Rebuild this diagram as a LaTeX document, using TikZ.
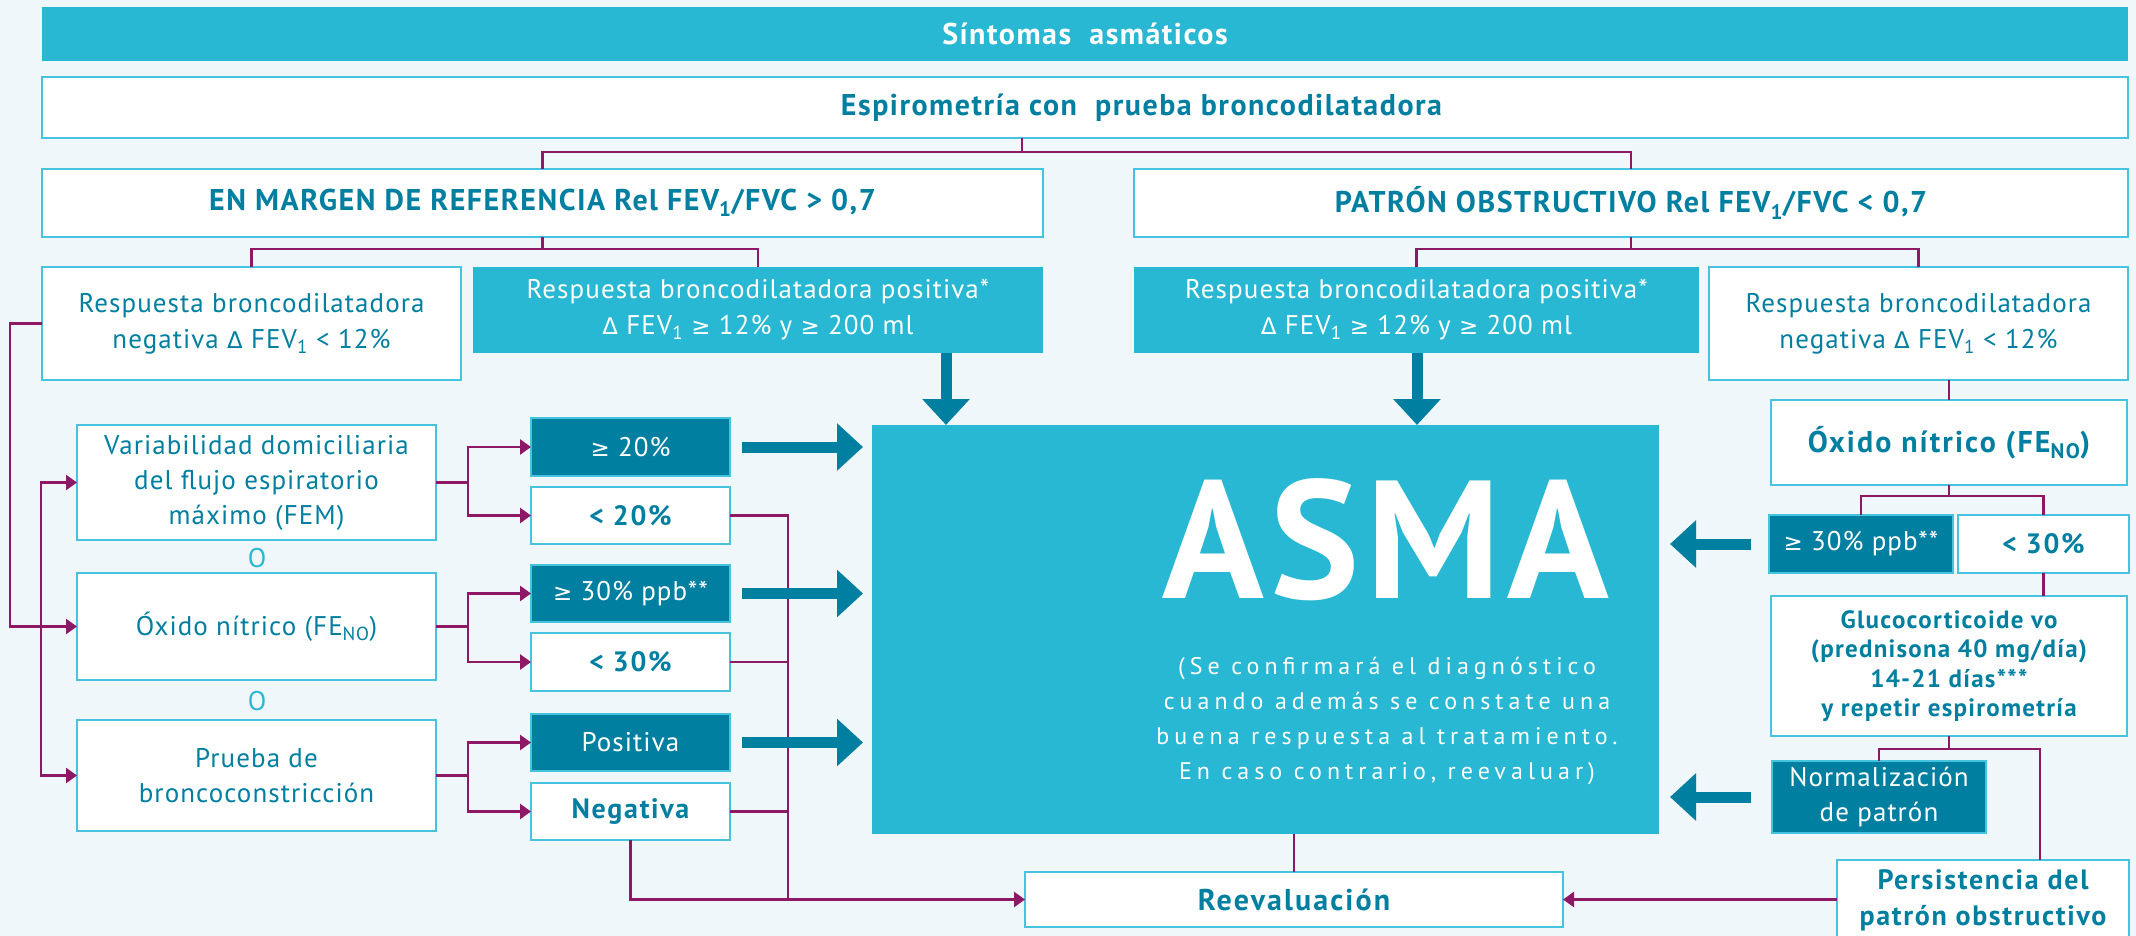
\documentclass[tikz,border=0pt]{standalone}
\usepackage{fontspec}
\setmainfont{PT Sans}
\newfontfamily\symf[Scale=0.85]{DejaVu Sans}
\usetikzlibrary{arrows.meta,calc}
\definecolor{cy}{RGB}{41,184,211}
\definecolor{dk}{RGB}{0,127,160}
\definecolor{pu}{RGB}{140,24,102}
\definecolor{bgc}{RGB}{240,247,251}
\definecolor{bd}{RGB}{70,195,222}
\newcommand{\gesym}{{\symf ≥}}
\newcommand{\Dsym}{{\symf Δ}}
\newcommand{\sbs}[1]{\textsubscript{#1}}
\newcommand{\bx}[7]{\node[#2, minimum width={(#5)-(#3)}, minimum height={(#6)-(#4)}] (#1) at ({((#3)+(#5))/2},{((#4)+(#6))/2}) {#7};}
\tikzset{
 wb/.style={draw=bd, line width=1.6pt, fill=white, inner sep=0pt, outer sep=0pt, align=center, text=dk},
 cb/.style={fill=cy, inner sep=0pt, outer sep=0pt, align=center, text=white},
 db/.style={fill=dk, draw=bd, line width=1.2pt, inner sep=0pt, outer sep=0pt, align=center, text=white},
 pl/.style={draw=pu, line width=2.6pt},
 pa/.style={pl, -{Triangle[length=11pt,width=15pt]}},
 fat/.style={draw=dk, line width=11pt, -{Triangle[length=26pt,width=46pt]}},
 ft/.style={font=\fontsize{27}{36}\selectfont\addfontfeatures{LetterSpace=4}},
 fs/.style={font=\fontsize{27}{35}\selectfont\addfontfeatures{LetterSpace=4}},
 fb/.style={font=\bfseries\fontsize{30}{34}\selectfont\addfontfeatures{LetterSpace=5}},
 fbx/.style={font=\bfseries\fontsize{30}{34}\selectfont\addfontfeatures{LetterSpace=7}},
 fbs/.style={font=\bfseries\fontsize{28}{36}\selectfont\addfontfeatures{LetterSpace=6}},
}
\begin{document}
\begin{tikzpicture}[x=1pt,y=-1pt]
\fill[bgc] (0,0) rectangle (2136,936);
\useasboundingbox (0,0) rectangle (2136,936);
% top rows
\bx{top}{cb,fb}{42}{7}{2128}{61}{Síntomas\ \ asmáticos}
\bx{esp}{wb,fb}{42}{77}{2128}{138}{\hspace*{113pt}Espirometría con\ \ prueba broncodilatadora}
\bx{enm}{wb,fb}{42}{169}{1043}{237}{EN MARGEN DE REFERENCIA Rel FEV\sbs{1}/FVC > 0,7}
\bx{pat}{wb,fb}{1134}{169}{2128}{237}{PATRÓN OBSTRUCTIVO Rel FEV\sbs{1}/FVC < 0,7}
\bx{rnl}{wb,ft}{42}{267}{461}{380}{Respuesta broncodilatadora\\negativa \Dsym{} FEV\sbs{1} < 12\%}
\bx{rpl}{cb,ft}{473}{267}{1043}{353}{Respuesta broncodilatadora positiva*\\\Dsym{} FEV\sbs{1} \gesym{} 12\% y \gesym{} 200 ml}
\bx{rpr}{cb,ft}{1134}{267}{1699}{353}{Respuesta broncodilatadora positiva*\\\Dsym{} FEV\sbs{1} \gesym{} 12\% y \gesym{} 200 ml}
\bx{rnr}{wb,ft}{1709}{267}{2128}{380}{Respuesta broncodilatadora\\negativa \Dsym{} FEV\sbs{1} < 12\%}
% left column
\bx{var}{wb,fs}{77}{425}{436}{540}{Variabilidad domiciliaria\\del flujo espiratorio\\máximo (FEM)}
\bx{oxl}{wb,fs}{77}{573}{436}{680}{Óxido nítrico (FE\sbs{NO})}
\bx{pru}{wb,fs}{77}{720}{436}{831}{Prueba de\\broncoconstricción}
\node[fs, text=cy] (o1) at (257,558) {O};
\node[fs, text=cy] (o2) at (257,701) {O};
\bx{g20}{db,fs}{531}{418}{730}{476}{\gesym{} 20\%}
\bx{l20}{wb,fbs}{531}{487}{730}{544}{< 20\%}
\bx{g30}{db,fs}{531}{565}{730}{622}{\gesym{} 30\% ppb**}
\bx{l30}{wb,fbs}{531}{633}{730}{691}{< 30\%}
\bx{pos}{db,fs}{531}{714}{730}{771}{Positiva}
\bx{neg}{wb,fbs}{531}{783}{730}{840}{Negativa}
% centre
\bx{asma}{cb}{872}{425}{1659}{834}{}
\node[text=white, font=\bfseries\fontsize{168}{168}\selectfont\addfontfeatures{LetterSpace=4}] (asmat) at (1386,540) {ASMA};
\node[text=white, align=center, font=\fontsize{24}{35}\selectfont\addfontfeatures{LetterSpace=21}] (asmas) at (1387,721) {(Se confirmará el diagnóstico\\cuando además se constate una\\buena respuesta al tratamiento.\\En caso contrario, reevaluar)};
\bx{reev}{wb,fbx}{1025}{872}{1563}{927}{Reevaluación}
% right column
\bx{oxr}{wb,fbx}{1771}{400}{2127}{485}{Óxido nítrico (FE\sbs{NO})}
\bx{g30r}{db,fs}{1769}{515}{1953}{573}{\gesym{} 30\% ppb**}
\bx{l30r}{wb,fbs}{1958}{515}{2129}{573}{< 30\%}
\bx{glu}{wb,font=\bfseries\fontsize{25}{29.5}\selectfont\addfontfeatures{LetterSpace=5}}{1771}{596}{2127}{736}{Glucocorticoide vo\\(prednisona 40 mg/día)\\14-21 días***\\y repetir espirometría}
\bx{nor}{db,fs}{1772}{761}{1986}{833}{Normalización\\de patrón}
\bx{per}{wb,fbs}{1837}{860}{2129}{940}{Persistencia del\\patrón obstructivo}
% purple connectors
\coordinate (j1) at (1022,152);
\draw[pl] (esp.south -| j1) -- (j1);
\draw[pl] (enm.north) |- (j1);
\draw[pl] (pat.north) |- (j1);
\coordinate (j2) at (543,249);
\draw[pl] (enm.south) -- (enm.south |- j2);
\draw[pl] (rnl.north) |- (rpl.north |- j2) -- (rpl.north);
\coordinate (j3) at (1631,249);
\draw[pl] (pat.south) -- (pat.south |- j3);
\draw[pl] (rpr.north) |- (rnr.north |- j3) -- (rnr.north);
\coordinate (lx) at (10,0);
\coordinate (lx2) at (41,0);
\draw[pa] (rnl.west) -- (rnl.west -| lx) |- (oxl.west);
\draw[pa] (lx2 |- oxl.west) |- (var.west);
\draw[pa] (lx2 |- oxl.west) |- (pru.west);
\coordinate (sx) at (468,0);
\draw[pl] (var.east) -- (var.east -| sx);
\draw[pa] (var.east -| sx) |- (g20.west);
\draw[pa] (var.east -| sx) |- (l20.west);
\draw[pl] (oxl.east) -- (oxl.east -| sx);
\draw[pa] (oxl.east -| sx) |- (g30.west);
\draw[pa] (oxl.east -| sx) |- (l30.west);
\draw[pl] (pru.east) -- (pru.east -| sx);
\draw[pa] (pru.east -| sx) |- (pos.west);
\draw[pa] (pru.east -| sx) |- (neg.west);
\coordinate (vx) at (788,0);
\draw[pl] (l20.east) -| (vx |- reev.west);
\draw[pl] (l30.east) -- (l30.east -| vx);
\draw[pl] (neg.east) -- (neg.east -| vx);
\draw[pa] (neg.south) |- (reev.west);
\draw[pl] (asma.south -| reev.north) -- (reev.north);
\draw[pl] (oxr.north) -- (oxr.north |- rnr.south);
\coordinate (y5) at (0,496);
\draw[pl] (oxr.south) -- (oxr.south |- y5);
\draw[pl] (g30r.north) |- (l30r.north |- y5) -- (l30r.north);
\draw[pl] (l30r.south) -- (l30r.south |- glu.north);
\coordinate (j7) at (2040,749);
\draw[pl] (glu.south) -- (glu.south |- j7);
\draw[pl] (nor.north) |- (j7) -- (j7 |- per.north);
\draw[pa] (per.west |- reev.east) -- (reev.east);
% fat arrows
\coordinate (d1) at (946,0);
\coordinate (d2) at (1417,0);
\draw[fat] (rpl.south -| d1) -- (asma.north -| d1);
\draw[fat] (rpr.south -| d2) -- (asma.north -| d2);
\draw[fat] ([xshift=12pt]g20.east) -- ([xshift=-9pt]g20.east -| asma.west);
\draw[fat] ([xshift=12pt]g30.east) -- ([xshift=-9pt]g30.east -| asma.west);
\draw[fat] ([xshift=12pt]pos.east) -- ([xshift=-9pt]pos.east -| asma.west);
\draw[fat] ([xshift=-18pt]g30r.west) -- ([xshift=11pt]g30r.west -| asma.east);
\draw[fat] ([xshift=-21pt]nor.west) -- ([xshift=11pt]nor.west -| asma.east);
\end{tikzpicture}
\end{document}
